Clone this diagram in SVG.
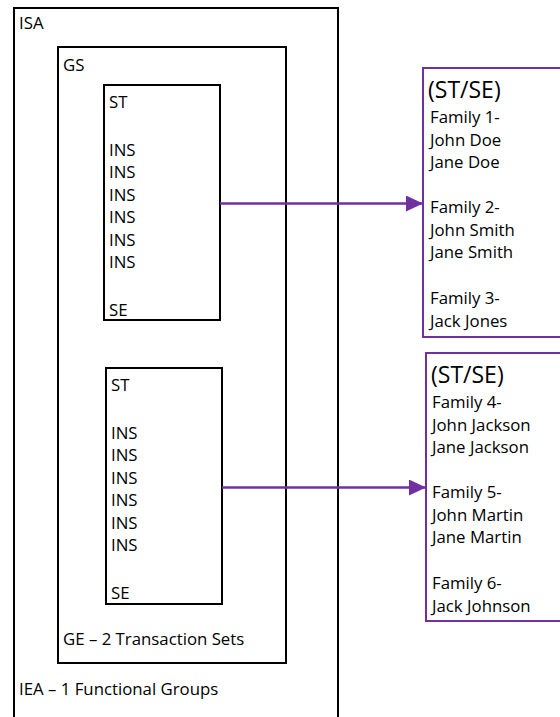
<svg xmlns="http://www.w3.org/2000/svg" width="560" height="717" viewBox="0 0 560 717">
<defs>
<style>
.blk{fill:none;stroke:#000;stroke-width:2}
.pur{fill:none;stroke:#7030A0;stroke-width:2}
.t{font-family:"Open Sans","Liberation Sans",sans-serif;font-size:16.8px;fill:#000}
.h{font-family:"Open Sans","Liberation Sans",sans-serif;font-size:23px;fill:#000}
.c{stroke:#7030A0;stroke-width:2.5;fill:none}
</style>
<marker id="ah" markerWidth="17" markerHeight="16" refX="17" refY="8" orient="auto" markerUnits="userSpaceOnUse">
<path d="M0,0 L17,8 L0,16 Z" fill="#7030A0"/>
</marker>
</defs>
<rect width="560" height="717" fill="#fff"/>
<g id="isa">
<rect class="blk" x="14" y="8" width="324" height="720"/>
<text class="t" x="19" y="29">ISA</text>
<text class="t" x="19" y="695">IEA – 1 Functional Groups</text>
</g>
<g id="gs">
<rect class="blk" x="58" y="47" width="228" height="616"/>
<text class="t" x="63" y="71">GS</text>
<text class="t" x="63" y="645">GE – 2 Transaction Sets</text>
</g>
<g id="ts1">
<rect class="blk" x="104" y="85" width="116" height="235"/>
<text class="t" x="109" y="108">ST</text>
<text class="t" x="109" y="156">INS</text>
<text class="t" x="109" y="178.4">INS</text>
<text class="t" x="109" y="200.8">INS</text>
<text class="t" x="109" y="223.2">INS</text>
<text class="t" x="109" y="245.6">INS</text>
<text class="t" x="109" y="268">INS</text>
<text class="t" x="109" y="316">SE</text>
</g>
<g id="ts2">
<rect class="blk" x="106" y="368" width="116" height="236"/>
<text class="t" x="111" y="391">ST</text>
<text class="t" x="111" y="439">INS</text>
<text class="t" x="111" y="461.4">INS</text>
<text class="t" x="111" y="483.8">INS</text>
<text class="t" x="111" y="506.2">INS</text>
<text class="t" x="111" y="528.6">INS</text>
<text class="t" x="111" y="551">INS</text>
<text class="t" x="111" y="599">SE</text>
</g>
<g id="fam1">
<rect class="pur" x="423" y="68" width="200" height="269"/>
<text class="h" x="428" y="98">(ST/SE)</text>
<text class="t" x="430" y="123">Family 1-</text>
<text class="t" x="430" y="145.5">John Doe</text>
<text class="t" x="430" y="168">Jane Doe</text>
<text class="t" x="430" y="213">Family 2-</text>
<text class="t" x="430" y="235.5">John Smith</text>
<text class="t" x="430" y="258">Jane Smith</text>
<text class="t" x="430" y="304">Family 3-</text>
<text class="t" x="430" y="327">Jack Jones</text>
</g>
<g id="fam2">
<rect class="pur" x="426" y="353" width="200" height="268"/>
<text class="h" x="431" y="383">(ST/SE)</text>
<text class="t" x="432" y="408">Family 4-</text>
<text class="t" x="432" y="430.5">John Jackson</text>
<text class="t" x="432" y="453">Jane Jackson</text>
<text class="t" x="432" y="498">Family 5-</text>
<text class="t" x="432" y="520.5">John Martin</text>
<text class="t" x="432" y="543">Jane Martin</text>
<text class="t" x="432" y="589">Family 6-</text>
<text class="t" x="432" y="612">Jack Johnson</text>
</g>
<g id="connectors">
<line class="c" x1="220" y1="203.5" x2="423" y2="203.5" marker-end="url(#ah)"/>
<line class="c" x1="222" y1="487.5" x2="426" y2="487.5" marker-end="url(#ah)"/>
</g>
</svg>
